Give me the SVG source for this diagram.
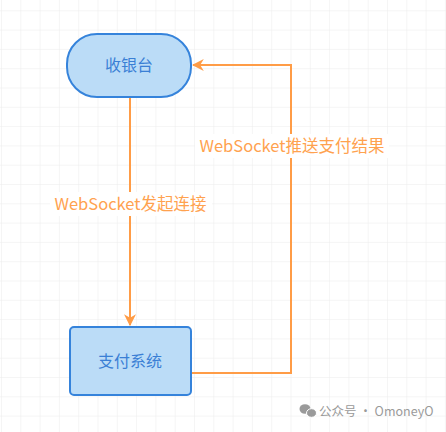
<svg xmlns="http://www.w3.org/2000/svg" width="446" height="432" viewBox="0 0 446 432">
<defs>
<pattern id="grid" x="1" y="-9" width="19.3" height="19.3" patternUnits="userSpaceOnUse">
<path d="M0 0H19.3M0 0V19.3" fill="none" stroke="#ebebeb" stroke-width="1"/>
</pattern>
<marker id="arr" viewBox="0 0 10 10" refX="9" refY="5" markerWidth="12" markerHeight="12" markerUnits="userSpaceOnUse" orient="auto">
<path d="M0 0L10 5L0 10L3 5Z" fill="#ff9c46"/>
</marker>
<style>
.node{fill:#bbdcf7;stroke:#3583db;stroke-width:2}
.nt{font-family:"Noto Sans CJK SC","Noto Sans",sans-serif;font-size:16px;fill:#3a7fd5;text-anchor:middle}
.edge{fill:none;stroke:#ff9c46;stroke-width:2}
.lbl{font-family:"Noto Sans CJK SC","Noto Sans",sans-serif;font-size:16.5px;fill:#ffa24f;text-anchor:middle}
</style>
</defs>
<rect width="446" height="432" fill="#ffffff"/>
<rect width="446" height="432" fill="url(#grid)"/>
<g id="connectors">
<path class="edge" d="M130 98V325" marker-end="url(#arr)"/>
<path class="edge" d="M191 373H291V65H193" marker-end="url(#arr)"/>
<rect x="50" y="192" width="162" height="24" fill="#ffffff"/>
<text class="lbl" x="130.5" y="210">WebSocket发起连接</text>
<rect x="195" y="134" width="194" height="24" fill="#ffffff"/>
<text class="lbl" x="292" y="152">WebSocket推送支付结果</text>
</g>
<g id="cashier">
<rect class="node" x="67" y="34" width="124" height="63" rx="30" ry="30"/>
<text class="nt" x="129" y="71">收银台</text>
</g>
<g id="payment">
<rect class="node" x="70" y="327" width="121" height="68" rx="4" ry="4"/>
<text class="nt" x="130" y="367">支付系统</text>
</g>
<g id="watermark">
<ellipse cx="305" cy="409" rx="5.5" ry="4.8" fill="#9a9a9a"/>
<ellipse cx="311.5" cy="413" rx="5" ry="4.3" fill="#9a9a9a" stroke="#ffffff" stroke-width="1"/>
<text x="319" y="416" font-family="'Noto Sans CJK SC','Noto Sans',sans-serif" font-size="12.5" fill="#9a9a9a">公众号 · OmoneyO</text>
</g>
</svg>
